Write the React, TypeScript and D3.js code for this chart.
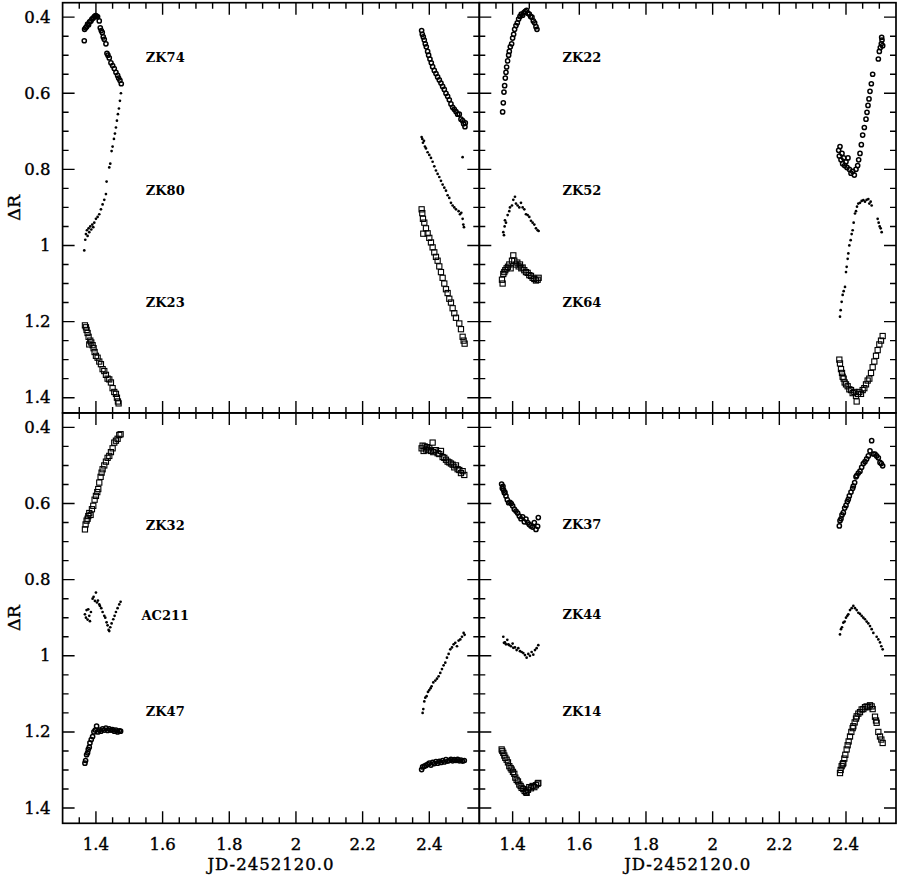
import React from "react";
import * as d3 from "d3";

type Pt = [number, number];

// x = JD-2452120.0, y = delta R
const ZK74: Pt[] = [
  [1.365,0.462],[1.366,0.432],[1.369,0.428],[1.372,0.425],[1.375,0.418],[1.378,0.42],[1.381,0.412],[1.385,0.41],
  [1.388,0.405],[1.392,0.402],[1.396,0.398],[1.399,0.396],[1.402,0.397],[1.405,0.399],[1.41,0.41],[1.413,0.428],
  [1.416,0.435],[1.419,0.44],[1.422,0.452],[1.425,0.458],[1.43,0.47],[1.433,0.495],[1.436,0.5],[1.44,0.507],
  [1.445,0.52],[1.45,0.527],[1.455,0.535],[1.46,0.545],[1.465,0.553],[1.468,0.56],[1.472,0.566],[1.476,0.575],
  [2.377,0.435],[2.379,0.445],[2.382,0.452],[2.385,0.46],[2.388,0.47],[2.391,0.478],[2.395,0.49],[2.398,0.5],
  [2.402,0.51],[2.406,0.52],[2.41,0.53],[2.415,0.54],[2.42,0.548],[2.425,0.557],[2.43,0.565],[2.435,0.573],
  [2.44,0.582],[2.445,0.59],[2.45,0.6],[2.455,0.608],[2.46,0.617],[2.465,0.628],[2.47,0.637],[2.475,0.642],
  [2.48,0.648],[2.485,0.655],[2.49,0.655],[2.495,0.668],[2.5,0.672],[2.503,0.68],[2.507,0.688],[2.508,0.678],
];
const ZK80: Pt[] = [
  [1.365,1.013],[1.368,0.985],[1.37,0.97],[1.373,0.96],[1.375,0.975],[1.378,0.955],[1.38,0.965],[1.383,0.95],
  [1.386,0.958],[1.389,0.945],[1.392,0.952],[1.395,0.94],[1.4,0.93],[1.405,0.925],[1.41,0.918],[1.415,0.905],
  [1.42,0.892],[1.425,0.88],[1.43,0.865],[1.432,0.832],[1.44,0.795],[1.443,0.785],[1.447,0.752],[1.45,0.74],
  [1.454,0.72],[1.457,0.706],[1.46,0.69],[1.463,0.672],[1.466,0.655],[1.469,0.64],[1.472,0.62],[1.475,0.6],
  [2.377,0.715],[2.379,0.72],[2.381,0.73],[2.384,0.725],[2.387,0.74],[2.39,0.745],[2.395,0.755],[2.4,0.762],
  [2.405,0.77],[2.41,0.78],[2.415,0.792],[2.42,0.803],[2.425,0.812],[2.43,0.82],[2.435,0.83],[2.44,0.84],
  [2.445,0.848],[2.45,0.856],[2.455,0.868],[2.46,0.875],[2.465,0.888],[2.47,0.895],[2.475,0.9],[2.48,0.905],
  [2.488,0.91],[2.492,0.918],[2.496,0.914],[2.5,0.93],[2.502,0.945],[2.504,0.952],[2.5,0.768],
];
const ZK23: Pt[] = [
  [1.367,1.21],[1.37,1.215],[1.372,1.222],[1.375,1.23],[1.378,1.24],[1.38,1.26],[1.383,1.25],[1.386,1.255],
  [1.39,1.262],[1.393,1.27],[1.396,1.28],[1.4,1.29],[1.405,1.295],[1.41,1.305],[1.415,1.312],[1.42,1.325],
  [1.425,1.33],[1.43,1.34],[1.435,1.35],[1.44,1.352],[1.445,1.36],[1.45,1.375],[1.455,1.385],[1.46,1.39],
  [1.463,1.4],[1.466,1.41],[1.468,1.415],
  [2.377,0.905],[2.379,0.915],[2.381,0.93],[2.382,0.969],[2.385,0.94],[2.39,0.955],[2.395,0.968],[2.4,0.98],
  [2.405,0.992],[2.41,1.005],[2.415,1.018],[2.42,1.03],[2.425,1.04],[2.43,1.055],[2.435,1.07],[2.44,1.085],
  [2.445,1.1],[2.45,1.115],[2.455,1.125],[2.46,1.14],[2.465,1.15],[2.47,1.165],[2.475,1.178],[2.48,1.19],
  [2.49,1.205],[2.495,1.22],[2.5,1.24],[2.503,1.25],[2.506,1.258],
];
const ZK22: Pt[] = [
  [1.37,0.649],[1.372,0.625],[1.374,0.597],[1.376,0.58],[1.378,0.56],[1.38,0.545],[1.382,0.531],[1.385,0.515],
  [1.388,0.5],[1.39,0.49],[1.393,0.478],[1.397,0.47],[1.4,0.455],[1.403,0.445],[1.406,0.432],[1.41,0.422],
  [1.414,0.415],[1.418,0.405],[1.422,0.398],[1.426,0.392],[1.43,0.395],[1.434,0.388],[1.438,0.385],[1.442,0.382],
  [1.446,0.39],[1.45,0.392],[1.454,0.398],[1.458,0.4],[1.462,0.41],[1.466,0.415],[1.47,0.425],[1.473,0.432],
  [2.378,0.75],[2.38,0.765],[2.382,0.74],[2.385,0.775],[2.388,0.758],[2.39,0.785],[2.393,0.77],[2.396,0.79],
  [2.4,0.78],[2.403,0.795],[2.406,0.77],[2.41,0.8],[2.415,0.81],[2.42,0.805],[2.425,0.815],[2.43,0.8],
  [2.435,0.79],[2.438,0.775],[2.442,0.758],[2.446,0.735],[2.45,0.71],[2.455,0.69],[2.46,0.668],[2.463,0.65],
  [2.466,0.632],[2.469,0.615],[2.472,0.595],[2.476,0.575],[2.48,0.55],[2.497,0.51],[2.5,0.49],[2.503,0.48],
  [2.506,0.47],[2.508,0.46],[2.51,0.475],[2.507,0.453],
];
const ZK52: Pt[] = [
  [1.372,0.965],[1.374,0.973],[1.376,0.95],[1.377,0.934],[1.38,0.94],[1.385,0.92],[1.39,0.91],[1.392,0.9],
  [1.398,0.895],[1.402,0.88],[1.407,0.872],[1.41,0.89],[1.415,0.895],[1.42,0.9],[1.425,0.888],[1.43,0.9],
  [1.435,0.905],[1.44,0.918],[1.445,0.92],[1.45,0.925],[1.455,0.935],[1.46,0.94],[1.465,0.945],[1.47,0.955],
  [1.475,0.96],[1.478,0.962],
  [2.382,1.187],[2.384,1.17],[2.387,1.148],[2.39,1.13],[2.393,1.12],[2.397,1.109],[2.4,1.07],[2.402,1.056],
  [2.405,1.035],[2.407,1.021],[2.41,1.0],[2.414,0.986],[2.417,0.97],[2.42,0.96],[2.423,0.94],[2.427,0.916],
  [2.43,0.91],[2.433,0.898],[2.437,0.89],[2.442,0.888],[2.447,0.883],[2.452,0.881],[2.457,0.885],[2.462,0.88],
  [2.467,0.878],[2.47,0.89],[2.474,0.885],[2.477,0.895],[2.495,0.93],[2.498,0.94],[2.501,0.95],[2.504,0.955],
  [2.507,0.965],
];
const ZK64: Pt[] = [
  [1.368,1.09],[1.37,1.1],[1.372,1.075],[1.375,1.07],[1.378,1.065],[1.382,1.06],[1.386,1.056],[1.39,1.05],
  [1.394,1.06],[1.398,1.04],[1.402,1.026],[1.405,1.04],[1.41,1.05],[1.414,1.045],[1.418,1.055],[1.422,1.05],
  [1.426,1.06],[1.43,1.058],[1.435,1.065],[1.44,1.07],[1.445,1.072],[1.45,1.078],[1.455,1.08],[1.46,1.085],
  [1.465,1.088],[1.47,1.092],[1.475,1.09],[1.478,1.085],
  [2.38,1.3],[2.382,1.31],[2.385,1.325],[2.388,1.335],[2.39,1.345],[2.393,1.35],[2.396,1.36],[2.4,1.365],
  [2.405,1.37],[2.41,1.378],[2.415,1.38],[2.42,1.388],[2.425,1.385],[2.43,1.395],[2.432,1.41],[2.436,1.39],
  [2.44,1.385],[2.445,1.39],[2.45,1.38],[2.455,1.375],[2.46,1.365],[2.465,1.355],[2.47,1.35],[2.475,1.335],
  [2.48,1.32],[2.485,1.305],[2.49,1.29],[2.495,1.275],[2.5,1.26],[2.505,1.25],[2.51,1.238],
];
const ZK32: Pt[] = [
  [1.367,0.668],[1.369,0.655],[1.372,0.645],[1.375,0.64],[1.377,0.633],[1.38,0.625],[1.384,0.63],[1.388,0.615],
  [1.392,0.606],[1.396,0.59],[1.4,0.58],[1.404,0.57],[1.407,0.562],[1.41,0.545],[1.414,0.53],[1.417,0.519],
  [1.42,0.51],[1.425,0.5],[1.43,0.49],[1.435,0.48],[1.44,0.475],[1.445,0.465],[1.45,0.455],[1.455,0.44],
  [1.46,0.435],[1.465,0.43],[1.47,0.42],[1.474,0.418],
  [2.377,0.455],[2.38,0.448],[2.383,0.462],[2.386,0.45],[2.39,0.458],[2.393,0.452],[2.397,0.46],[2.4,0.455],
  [2.405,0.462],[2.41,0.44],[2.412,0.465],[2.416,0.46],[2.42,0.46],[2.425,0.468],[2.43,0.47],[2.435,0.462],
  [2.44,0.478],[2.445,0.48],[2.45,0.485],[2.455,0.49],[2.46,0.492],[2.465,0.495],[2.47,0.498],[2.475,0.505],
  [2.48,0.5],[2.485,0.51],[2.49,0.512],[2.495,0.52],[2.5,0.515],[2.505,0.525],
];
const AC211: Pt[] = [
  [1.367,0.891],[1.37,0.9],[1.372,0.88],[1.375,0.905],[1.377,0.878],[1.38,0.895],[1.382,0.909],[1.385,0.885],
  [1.39,0.85],[1.393,0.845],[1.397,0.856],[1.4,0.834],[1.403,0.86],[1.406,0.855],[1.41,0.865],[1.412,0.869],
  [1.416,0.875],[1.42,0.885],[1.425,0.895],[1.428,0.9],[1.432,0.912],[1.435,0.92],[1.438,0.932],[1.44,0.935],
  [1.443,0.925],[1.447,0.915],[1.452,0.904],[1.456,0.895],[1.46,0.885],[1.465,0.875],[1.47,0.865],[1.474,0.858],
  [2.38,1.15],[2.382,1.14],[2.385,1.12],[2.388,1.11],[2.392,1.106],[2.396,1.095],[2.4,1.09],[2.404,1.085],
  [2.407,1.08],[2.412,1.07],[2.418,1.065],[2.423,1.06],[2.428,1.054],[2.433,1.045],[2.438,1.035],[2.443,1.025],
  [2.448,1.018],[2.453,1.005],[2.458,0.995],[2.463,0.983],[2.468,0.978],[2.473,0.97],[2.478,0.966],[2.483,0.975],
  [2.488,0.96],[2.493,0.957],[2.498,0.95],[2.503,0.94],[2.506,0.945],
];
const ZK47: Pt[] = [
  [1.367,1.282],[1.369,1.275],[1.372,1.26],[1.375,1.255],[1.377,1.246],[1.38,1.24],[1.382,1.229],[1.386,1.22],
  [1.39,1.212],[1.394,1.2],[1.398,1.195],[1.402,1.185],[1.406,1.2],[1.41,1.195],[1.415,1.198],[1.42,1.192],
  [1.425,1.195],[1.43,1.19],[1.435,1.196],[1.44,1.192],[1.445,1.195],[1.45,1.194],[1.455,1.198],[1.46,1.195],
  [1.465,1.2],[1.47,1.197],[1.474,1.198],
  [2.377,1.299],[2.38,1.292],[2.385,1.29],[2.39,1.288],[2.395,1.285],[2.4,1.282],[2.405,1.287],[2.41,1.28],
  [2.415,1.283],[2.42,1.278],[2.425,1.282],[2.43,1.277],[2.435,1.28],[2.44,1.275],[2.445,1.279],[2.45,1.273],
  [2.455,1.277],[2.46,1.275],[2.465,1.272],[2.47,1.276],[2.475,1.273],[2.48,1.275],[2.485,1.272],[2.49,1.276],
  [2.495,1.274],[2.5,1.277],[2.505,1.275],
];
const ZK37: Pt[] = [
  [1.367,0.549],[1.369,0.56],[1.371,0.555],[1.373,0.565],[1.375,0.572],[1.377,0.571],[1.38,0.58],[1.384,0.59],
  [1.388,0.598],[1.392,0.597],[1.396,0.6],[1.4,0.606],[1.405,0.615],[1.41,0.62],[1.415,0.625],[1.42,0.633],
  [1.425,0.64],[1.43,0.635],[1.435,0.648],[1.44,0.641],[1.445,0.65],[1.45,0.655],[1.455,0.659],[1.46,0.662],
  [1.465,0.65],[1.47,0.668],[1.475,0.66],[1.477,0.637],
  [2.38,0.659],[2.382,0.645],[2.385,0.64],[2.388,0.63],[2.392,0.624],[2.396,0.612],[2.4,0.605],[2.404,0.595],
  [2.407,0.589],[2.41,0.58],[2.415,0.57],[2.42,0.56],[2.422,0.554],[2.426,0.545],[2.43,0.53],[2.432,0.527],
  [2.437,0.52],[2.442,0.515],[2.447,0.505],[2.452,0.495],[2.457,0.49],[2.462,0.483],[2.467,0.475],[2.472,0.462],
  [2.477,0.435],[2.482,0.47],[2.487,0.47],[2.492,0.475],[2.497,0.48],[2.502,0.492],[2.506,0.495],[2.51,0.501],
];
const ZK44: Pt[] = [
  [1.372,0.95],[1.374,0.966],[1.377,0.965],[1.38,0.97],[1.384,0.958],[1.387,0.97],[1.39,0.972],[1.395,0.975],
  [1.4,0.968],[1.402,0.979],[1.407,0.978],[1.412,0.985],[1.417,0.98],[1.422,0.988],[1.427,0.99],[1.432,0.993],
  [1.437,0.998],[1.442,1.005],[1.447,0.995],[1.452,1.0],[1.457,0.99],[1.462,0.997],[1.467,0.985],[1.472,0.98],
  [1.477,0.972],
  [2.382,0.944],[2.385,0.93],[2.388,0.925],[2.392,0.913],[2.396,0.91],[2.4,0.9],[2.404,0.895],[2.407,0.891],
  [2.412,0.88],[2.417,0.875],[2.422,0.869],[2.427,0.875],[2.432,0.88],[2.437,0.887],[2.442,0.89],[2.447,0.895],
  [2.452,0.9],[2.457,0.904],[2.462,0.91],[2.467,0.915],[2.472,0.922],[2.477,0.93],[2.482,0.94],[2.492,0.95],
  [2.497,0.957],[2.502,0.965],[2.506,0.975],[2.51,0.983],
];
const ZK14: Pt[] = [
  [1.367,1.246],[1.369,1.25],[1.372,1.255],[1.375,1.262],[1.378,1.268],[1.382,1.273],[1.386,1.28],[1.39,1.29],
  [1.394,1.295],[1.397,1.299],[1.401,1.305],[1.405,1.31],[1.408,1.32],[1.412,1.326],[1.416,1.33],[1.42,1.338],
  [1.424,1.342],[1.427,1.347],[1.432,1.35],[1.436,1.355],[1.44,1.358],[1.442,1.36],[1.446,1.352],[1.45,1.345],
  [1.455,1.348],[1.46,1.342],[1.465,1.345],[1.47,1.34],[1.475,1.336],[1.477,1.334],
  [2.382,1.308],[2.384,1.3],[2.387,1.29],[2.39,1.285],[2.392,1.282],[2.395,1.27],[2.398,1.26],[2.402,1.246],
  [2.405,1.235],[2.408,1.225],[2.412,1.212],[2.416,1.2],[2.42,1.19],[2.422,1.185],[2.426,1.175],[2.43,1.165],
  [2.432,1.159],[2.437,1.152],[2.442,1.148],[2.447,1.141],[2.452,1.14],[2.457,1.135],[2.462,1.133],[2.467,1.135],
  [2.472,1.13],[2.477,1.133],[2.48,1.14],[2.487,1.16],[2.49,1.17],[2.492,1.176],[2.497,1.2],[2.502,1.212],
  [2.506,1.22],[2.51,1.229],
];

const xTickLabels = [1.4, 1.6, 1.8, 2, 2.2, 2.4];
const yTickLabels = [0.4, 0.6, 0.8, 1, 1.2, 1.4];
const xTitle = "JD-2452120.0";
const yTitle = "\u0394R";

type Sym = "circle" | "dot" | "square";
interface Star { name: string; data: Pt[]; sym: Sym; labelY: number }

const panels: { col: number; row: number; stars: Star[] }[] = [
  { col: 0, row: 0, stars: [
    { name: "ZK74", data: ZK74, sym: "circle", labelY: 0.505 },
    { name: "ZK80", data: ZK80, sym: "dot", labelY: 0.855 },
    { name: "ZK23", data: ZK23, sym: "square", labelY: 1.151 },
  ] },
  { col: 1, row: 0, stars: [
    { name: "ZK22", data: ZK22, sym: "circle", labelY: 0.505 },
    { name: "ZK52", data: ZK52, sym: "dot", labelY: 0.855 },
    { name: "ZK64", data: ZK64, sym: "square", labelY: 1.151 },
  ] },
  { col: 0, row: 1, stars: [
    { name: "ZK32", data: ZK32, sym: "square", labelY: 0.657 },
    { name: "AC211", data: AC211, sym: "dot", labelY: 0.894 },
    { name: "ZK47", data: ZK47, sym: "circle", labelY: 1.147 },
  ] },
  { col: 1, row: 1, stars: [
    { name: "ZK37", data: ZK37, sym: "circle", labelY: 0.655 },
    { name: "ZK44", data: ZK44, sym: "dot", labelY: 0.891 },
    { name: "ZK14", data: ZK14, sym: "square", labelY: 1.147 },
  ] },
];

const W = 899;
const H = 876;
const colEdges = [62.6, 479.3, 896];
const rowEdges = [2.7, 412.9, 823.3];
const FONT = "'DejaVu Serif', 'Liberation Serif', serif";

const isMajor = (v: number) => Math.abs(v * 5 - Math.round(v * 5)) < 1e-6;

function Marker({ sym, cx, cy }: { sym: Sym; cx: number; cy: number }) {
  if (sym === "dot") return <circle cx={cx} cy={cy} r={1.35} fill="#000" />;
  if (sym === "square")
    return <rect x={cx - 2.6} y={cy - 2.6} width={5.2} height={5.2} fill="none" stroke="#000" strokeWidth={1.1} />;
  return <circle cx={cx} cy={cy} r={2.1} fill="none" stroke="#000" strokeWidth={1.5} />;
}

function Panel({ col, row, stars }: { col: number; row: number; stars: Star[] }) {
  const x0 = colEdges[col], x1 = colEdges[col + 1];
  const y0 = rowEdges[row], y1 = rowEdges[row + 1];
  const x = d3.scaleLinear().domain([1.3, 2.55]).range([x0, x1]);
  const y = d3.scaleLinear().domain([0.362, 1.44]).range([y0, y1]);
  const xt = x.ticks(25).filter((v) => v > 1.301 && v < 2.549);
  const yt = y.ticks(20).filter((v) => v > 0.363 && v < 1.439);
  const fmt = d3.format("~g");
  const ticks: string[] = [];
  xt.forEach((v) => {
    const L = isMajor(v) ? 12 : 6;
    const px = x(v);
    ticks.push(`M${px},${y1}v${-L}M${px},${y0}v${L}`);
  });
  yt.forEach((v) => {
    const L = isMajor(v) ? 12 : 6;
    const py = y(v);
    ticks.push(`M${x0},${py}h${L}M${x1},${py}h${-L}`);
  });
  const labelStyle = { fontFamily: FONT, fontSize: 16.5, stroke: "#000", strokeWidth: 0.4 };
  return (
    <g>
      <path d={ticks.join("")} stroke="#000" strokeWidth={1.4} fill="none" />
      <rect x={x0} y={y0} width={x1 - x0} height={y1 - y0} fill="none" stroke="#000" strokeWidth={1.7} />
      {stars.map((s) => (
        <g key={s.name}>
          {s.data.map((d, i) => (
            <Marker key={i} sym={s.sym} cx={x(d[0])} cy={y(d[1])} />
          ))}
          <text x={x(1.608)} y={y(s.labelY)} textAnchor="middle" dominantBaseline="central"
            fontFamily={FONT} fontWeight="bold" fontSize={13}>{s.name}</text>
        </g>
      ))}
      {col === 0 && yTickLabels.map((v) => (
        <text key={v} x={x0 - 12} y={y(v)} textAnchor="end" dominantBaseline="central" style={labelStyle}>{fmt(v)}</text>
      ))}
      {col === 0 && (
        <text transform={`translate(14,${(y0 + y1) / 2}) rotate(-90)`} textAnchor="middle"
          dominantBaseline="central" style={{ ...labelStyle, fontSize: 17.5 }}>{yTitle}</text>
      )}
      {row === 1 && xTickLabels.map((v) => (
        <text key={v} x={x(v)} y={y1 + 27} textAnchor="middle" style={labelStyle}>{fmt(v)}</text>
      ))}
      {row === 1 && (
        <text x={(x0 + x1) / 2} y={y1 + 47} textAnchor="middle" style={{ ...labelStyle, letterSpacing: 1 }}>{xTitle}</text>
      )}
    </g>
  );
}

export default function App() {
  return (
    <svg width={W} height={H} style={{ position: "absolute", left: 0, top: 0, background: "#fff" }}>
      <rect width={W} height={H} fill="#fff" />
      {panels.map((p) => (
        <Panel key={`${p.col}-${p.row}`} {...p} />
      ))}
    </svg>
  );
}
